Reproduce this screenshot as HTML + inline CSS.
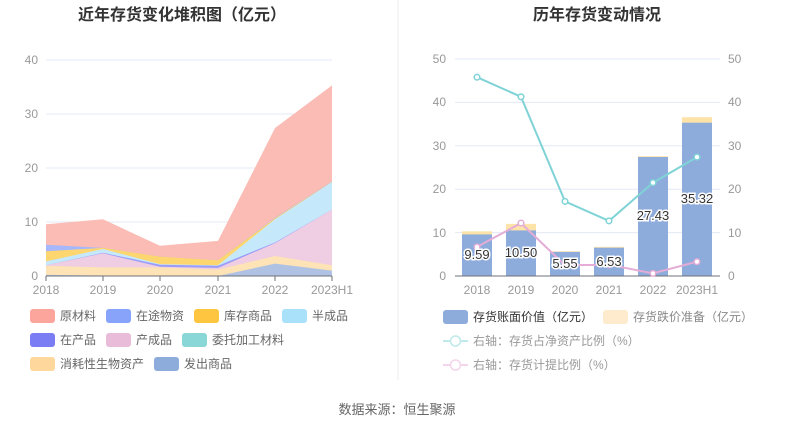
<!DOCTYPE html>
<html><head><meta charset="utf-8"><style>
body{margin:0;background:#fff;}
svg{display:block;font-family:"Liberation Sans","Noto Sans CJK SC",sans-serif;}
</style></head><body>
<svg width="794" height="432" viewBox="0 0 794 432">
<rect width="794" height="432" fill="#fff"/>
<line x1="398" y1="0" x2="398" y2="380" stroke="#eee"/>
<text x="182" y="20" font-size="16" font-weight="bold" fill="#333" text-anchor="middle">近年存货变化堆积图（亿元）</text>
<text x="597" y="20" font-size="16" font-weight="bold" fill="#333" text-anchor="middle">历年存货变动情况</text>
<g stroke="#e3e8f4">
<line x1="46" y1="222" x2="332" y2="222"/><line x1="46" y1="168" x2="332" y2="168"/><line x1="46" y1="114" x2="332" y2="114"/><line x1="46" y1="60" x2="332" y2="60"/>
</g>
<g font-size="12" fill="#999" text-anchor="end">
<text x="38" y="280">0</text><text x="38" y="226">10</text><text x="38" y="172">20</text><text x="38" y="118">30</text><text x="38" y="64">40</text>
</g>
<polygon fill="#fbbcb5" points="46,276 46,224.2 103,219.3 160,245.8 218,240.9 275,128 332,85.4 332,276"/>
<polygon fill="#a7b7fb" points="46,276 46,244.7 103,247.9 160,256.6 218,260.3 275,217.7 332,181.5 332,276"/>
<polygon fill="#fed66f" points="46,276 46,251.2 103,247.9 160,256.6 218,260.3 275,218.2 332,181.8 332,276"/>
<polygon fill="#c5e9fb" points="46,276 46,261.4 103,249 160,264.1 218,265.2 275,219.3 332,182 332,276"/>
<polygon fill="#9a9cf7" points="46,276 46,265.2 103,252.8 160,264.7 218,265.7 275,242.5 332,209.6 332,276"/>
<polygon fill="#efcde3" points="46,276 46,265.2 103,253.3 160,266.8 218,267.9 275,243.1 332,209.6 332,276"/>
<polygon fill="#fde3b5" points="46,276 46,265.7 103,267.4 160,267.4 218,269.5 275,256 332,265.2 332,276"/>
<polygon fill="#afc2e3" points="46,276 46,274.9 103,275.5 160,276 218,276 275,263.6 332,270.6 332,276"/>
<line x1="46" y1="276" x2="332" y2="276" stroke="#6e7079"/>
<g stroke="#6e7079"><line x1="46" y1="276" x2="46" y2="281"/><line x1="103" y1="276" x2="103" y2="281"/><line x1="160" y1="276" x2="160" y2="281"/><line x1="218" y1="276" x2="218" y2="281"/><line x1="275" y1="276" x2="275" y2="281"/><line x1="332" y1="276" x2="332" y2="281"/></g>
<g font-size="12" fill="#999" text-anchor="middle">
<text x="46" y="294">2018</text><text x="103" y="294">2019</text><text x="160" y="294">2020</text><text x="218" y="294">2021</text><text x="275" y="294">2022</text><text x="332" y="294">2023H1</text>
</g>
<g font-size="12" fill="#666">
<rect x="30" y="309" width="25" height="14" rx="3" fill="#fca59d"/><text x="60" y="320">原材料</text>
<rect x="106" y="309" width="25" height="14" rx="3" fill="#88a4fa"/><text x="136" y="320">在途物资</text>
<rect x="194" y="309" width="25" height="14" rx="3" fill="#fec640"/><text x="224" y="320">库存商品</text>
<rect x="282" y="309" width="25" height="14" rx="3" fill="#a9e1fb"/><text x="312" y="320">半成品</text>
<rect x="30" y="333" width="25" height="14" rx="3" fill="#7b7df4"/><text x="60" y="344">在产品</text>
<rect x="106" y="333" width="25" height="14" rx="3" fill="#e9bcd9"/><text x="136" y="344">产成品</text>
<rect x="182" y="333" width="25" height="14" rx="3" fill="#8ad7d8"/><text x="212" y="344">委托加工材料</text>
<rect x="30" y="357" width="25" height="14" rx="3" fill="#fed79c"/><text x="60" y="368">消耗性生物资产</text>
<rect x="154" y="357" width="25" height="14" rx="3" fill="#8eacdb"/><text x="184" y="368">发出商品</text>
</g>
<g stroke="#e3e8f4">
<line x1="455" y1="232.6" x2="720" y2="232.6"/><line x1="455" y1="189.2" x2="720" y2="189.2"/><line x1="455" y1="145.8" x2="720" y2="145.8"/><line x1="455" y1="102.4" x2="720" y2="102.4"/><line x1="455" y1="59" x2="720" y2="59"/>
</g>
<g font-size="12" fill="#999" text-anchor="end">
<text x="446" y="280">0</text><text x="446" y="237">10</text><text x="446" y="193">20</text><text x="446" y="150">30</text><text x="446" y="106">40</text><text x="446" y="63">50</text>
</g>
<g font-size="12" fill="#999">
<text x="728" y="280">0</text><text x="728" y="237">10</text><text x="728" y="193">20</text><text x="728" y="150">30</text><text x="728" y="106">40</text><text x="728" y="63">50</text>
</g>
<g fill="#fde3a8">
<rect x="462" y="231.3" width="30" height="4"/><rect x="506" y="223.9" width="30" height="7"/><rect x="550" y="251.3" width="30" height="1.5"/><rect x="594" y="246.9" width="30" height="1.5"/><rect x="638" y="156.2" width="30" height="1.5"/><rect x="682" y="117.2" width="30" height="6"/>
</g>
<g fill="#8eacdb">
<rect x="462" y="234.4" width="30" height="41.6"/><rect x="506" y="230.4" width="30" height="45.6"/><rect x="550" y="251.9" width="30" height="24.1"/><rect x="594" y="247.7" width="30" height="28.3"/><rect x="638" y="157" width="30" height="119"/><rect x="682" y="122.7" width="30" height="153.3"/>
</g>
<line x1="455" y1="276" x2="720" y2="276" stroke="#6e7079"/>
<g font-size="12" fill="#999" text-anchor="middle">
<text x="477" y="294">2018</text><text x="521" y="294">2019</text><text x="565" y="294">2020</text><text x="609" y="294">2021</text><text x="653" y="294">2022</text><text x="697" y="294">2023H1</text>
</g>
<polyline fill="none" stroke="#7fd3d6" stroke-width="2" points="477,77.2 521,96.8 565,201.4 609,220.9 653,182.7 697,157.1"/>
<polyline fill="none" stroke="#e4acd6" stroke-width="2" points="477,246.9 521,223.1 565,265.2 609,264.7 653,273.4 697,261.7"/>
<g fill="#fff" stroke="#7fd3d6" stroke-width="1.5">
<circle cx="477" cy="77.2" r="2.8"/><circle cx="521" cy="96.8" r="2.8"/><circle cx="565" cy="201.4" r="2.8"/><circle cx="609" cy="220.9" r="2.8"/><circle cx="653" cy="182.7" r="2.8"/><circle cx="697" cy="157.1" r="2.8"/>
</g>
<g fill="#fff" stroke="#e4acd6" stroke-width="1.5">
<circle cx="477" cy="246.9" r="2.8"/><circle cx="521" cy="223.1" r="2.8"/><circle cx="565" cy="265.2" r="2.8"/><circle cx="609" cy="264.7" r="2.8"/><circle cx="653" cy="273.4" r="2.8"/><circle cx="697" cy="261.7" r="2.8"/>
</g>
<g font-size="13" fill="#333" text-anchor="middle" stroke="#fff" stroke-width="3" paint-order="stroke">
<text x="477" y="259">9.59</text><text x="521" y="257">10.50</text><text x="565" y="268">5.55</text><text x="609" y="266">6.53</text><text x="653" y="220">27.43</text><text x="697" y="203">35.32</text>
</g>
<g font-size="12">
<rect x="443" y="310" width="25" height="14" rx="3" fill="#8eacdb"/><text x="473" y="321" fill="#333">存货账面价值（亿元）</text>
<rect x="603" y="310" width="25" height="14" rx="3" fill="#feeacc"/><text x="633" y="321" fill="#888">存货跌价准备（亿元）</text>
<line x1="443" y1="341" x2="468" y2="341" stroke="#bfe9ea" stroke-width="2"/><circle cx="455.5" cy="341" r="5" fill="#fff" stroke="#bfe9ea" stroke-width="1.5"/><text x="473" y="345" fill="#999">右轴：存货占净资产比例（%）</text>
<line x1="443" y1="365" x2="468" y2="365" stroke="#f4d5eb" stroke-width="2"/><circle cx="455.5" cy="365" r="5" fill="#fff" stroke="#f4d5eb" stroke-width="1.5"/><text x="473" y="369" fill="#999">右轴：存货计提比例（%）</text>
</g>
<text x="397" y="414" font-size="13" fill="#666" text-anchor="middle">数据来源：恒生聚源</text>
</svg>
</body></html>
